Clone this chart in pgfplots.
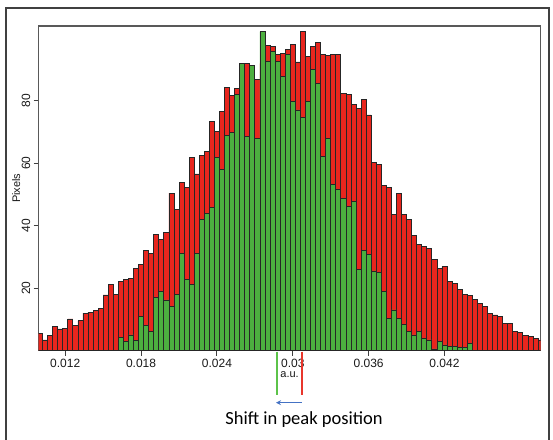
\documentclass[border=0pt]{standalone}
\usepackage{fontspec}
\setmainfont{Liberation Sans}
\newfontfamily\calibri{Carlito}
\usepackage{pgfplots}
\usepackage{pgfplotstable}
\pgfplotsset{compat=1.18}
\usetikzlibrary{arrows.meta}
\definecolor{barred}{HTML}{E8261E}
\definecolor{bargreen}{HTML}{4CAF3F}
\definecolor{linegreen}{HTML}{5CC34A}
\definecolor{linered}{HTML}{E8362C}
\definecolor{arrowblue}{HTML}{4472C4}

\pgfplotstableread{
x y
0.0100 5.6
0.0104 3.4
0.0108 4.8
0.0112 7.7
0.0116 6.9
0.0120 7.2
0.0124 10.1
0.0128 8.0
0.0132 9.6
0.0136 12.0
0.0140 12.3
0.0144 12.8
0.0148 13.4
0.0152 17.8
0.0156 21.3
0.0160 17.9
0.0164 22.1
0.0168 22.7
0.0172 23.2
0.0176 26.4
0.0180 27.5
0.0184 32.1
0.0188 31.2
0.0192 37.1
0.0196 35.7
0.0200 37.9
0.0204 50.4
0.0208 45.3
0.0212 54.0
0.0216 52.4
0.0220 61.9
0.0224 56.6
0.0228 62.4
0.0232 63.8
0.0236 73.3
0.0240 70.1
0.0244 76.5
0.0248 84.3
0.0252 81.7
0.0256 84.0
0.0260 88.0
0.0264 92.0
0.0268 91.0
0.0272 87.0
0.0276 92.0
0.0280 97.8
0.0284 97.4
0.0288 95.0
0.0292 95.1
0.0296 96.6
0.0300 98.0
0.0304 92.5
0.0308 102.2
0.0312 94.2
0.0316 97.4
0.0320 98.7
0.0324 94.8
0.0328 94.5
0.0332 94.8
0.0336 94.8
0.0340 82.5
0.0344 82.0
0.0348 78.8
0.0352 77.7
0.0356 80.4
0.0360 75.5
0.0364 60.3
0.0368 59.5
0.0372 52.8
0.0376 52.2
0.0380 43.5
0.0384 50.4
0.0388 43.5
0.0392 42.1
0.0396 36.8
0.0400 33.9
0.0404 33.3
0.0408 32.8
0.0412 29.1
0.0416 26.4
0.0420 26.9
0.0424 22.1
0.0428 21.6
0.0432 19.5
0.0436 17.9
0.0440 17.6
0.0444 16.3
0.0448 15.2
0.0452 14.1
0.0456 12.0
0.0460 11.4
0.0464 10.9
0.0468 8.8
0.0472 8.6
0.0476 6.1
0.0480 5.8
0.0484 4.7
0.0488 4.5
0.0492 4.0
0.0496 3.4
}\reddata

\pgfplotstableread{
x y
0.0164 4.2
0.0168 2.9
0.0172 5.0
0.0176 3.1
0.0180 10.9
0.0184 8.0
0.0188 6.1
0.0192 17.0
0.0196 18.9
0.0200 16.2
0.0204 14.1
0.0208 17.9
0.0212 31.0
0.0216 22.7
0.0220 21.1
0.0224 31.0
0.0228 41.9
0.0232 44.0
0.0236 45.8
0.0240 61.9
0.0244 57.9
0.0248 68.8
0.0252 70.0
0.0256 82.0
0.0260 92.1
0.0264 68.6
0.0268 91.3
0.0272 68.1
0.0276 102.2
0.0280 92.8
0.0284 95.8
0.0288 92.6
0.0292 87.8
0.0296 94.8
0.0300 79.8
0.0304 77.1
0.0308 74.8
0.0312 79.8
0.0316 90.0
0.0320 85.7
0.0324 62.2
0.0328 68.0
0.0332 53.1
0.0336 51.5
0.0340 48.8
0.0344 46.2
0.0348 47.8
0.0352 26.0
0.0356 32.0
0.0360 30.7
0.0364 25.5
0.0368 25.0
0.0372 19.0
0.0376 10.4
0.0380 13.0
0.0384 10.4
0.0388 8.3
0.0392 6.1
0.0396 5.0
0.0400 6.1
0.0404 4.0
0.0408 3.4
0.0412 0.5
0.0416 2.9
0.0420 1.8
0.0424 1.3
0.0428 1.3
0.0432 1.0
0.0436 1.0
0.0440 2.4
}\greendata

\begin{document}
\begin{tikzpicture}[x=1pt,y=1pt]
\useasboundingbox (0,0) rectangle (553,439);
\draw[line width=1.1pt, black!75] (6,-2) -- (6,431) -- (549,431) -- (549,-2);
\begin{axis}[
  at={(38.7pt,88.5pt)}, anchor=south west,
  scale only axis, width=501.8pt, height=324.5pt,
  xmin=0.0099, xmax=0.0496, ymin=0, ymax=104,
  axis line style={draw=black!65, line width=1.1pt},
  xtick={0.012,0.018,0.024,0.030,0.036,0.042},
  xticklabels={0.012,0.018,0.024,0.03,0.036,0.042},
  ytick={20,40,60,80},
  yticklabels={20,40,60,80},
  scaled x ticks=false,
  tick align=outside, major tick length=5pt,
  xtick pos=bottom, ytick pos=left,
  tick style={black!75, line width=1pt},
  ticklabel style={font=\fontsize{12}{12}\selectfont, text=black!90},
  yticklabel style={rotate=90, anchor=south},
  xlabel={a.u.}, ylabel={Pixels},
  xlabel style={font=\fontsize{11}{11}\selectfont, text=black!90, inner sep=1pt, at={(axis description cs:0.5,-0.075)}, anchor=center},
  ylabel style={font=\fontsize{11}{11}\selectfont, text=black!90, at={(axis description cs:-0.045,0.5)}, anchor=center},
]
\addplot[ybar, bar width=0.0004, bar shift=0pt, fill=barred, draw=black!85, line width=0.7pt] table[x=x,y=y]{\reddata};
\addplot[ybar, bar width=0.0004, bar shift=0pt, fill=bargreen, draw=black!85, line width=0.7pt] table[x=x,y=y]{\greendata};
\end{axis}
\draw[linegreen, line width=2pt] (276.7,87.5) -- (276.7,44);
\draw[linered, line width=2pt] (301.7,87.5) -- (301.7,44);
\draw[arrowblue, line width=1.5pt, -{Stealth[length=5pt,width=5pt]}] (301.7,36.3) -- (276,36.3);
\node[font=\calibri\fontsize{18.5}{20}\selectfont, text=black] at (304,19) {Shift in peak position};
\end{tikzpicture}
\end{document}
